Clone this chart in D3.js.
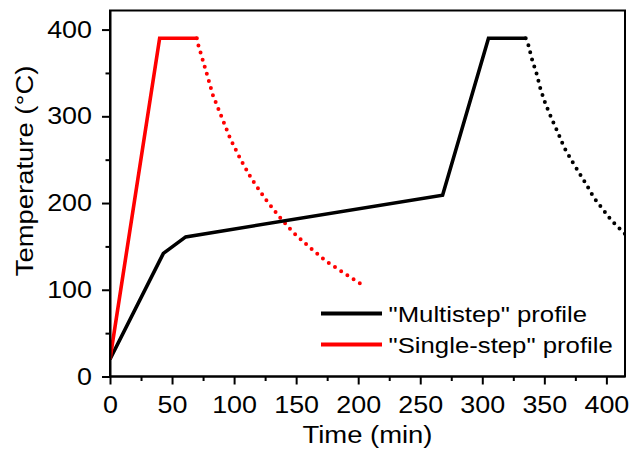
<!DOCTYPE html>
<html>
<head>
<meta charset="utf-8">
<script src="https://cdn.jsdelivr.net/npm/d3@7"></script>
<style>
  body { margin: 0; background: #fff; }
  svg { display: block; font-family: "Liberation Sans", Arial, sans-serif; }
  .stretch { transform-box: fill-box; transform: scaleX(1.12); }
</style>
</head>
<body>
<div id="chart"></div>
<script>
// heating / holding segments (solid)
const multistepTime = [0, 43, 61, 268, 305, 335]
const multistepTemp = [20, 142, 161, 209, 390, 390]
const singleTime = [0, 40, 70]
const singleTemp = [20, 390, 390]

// cooling segments (dotted)
const multistepCoolTime = [335, 337, 340, 344, 347, 351, 356, 361, 366, 372, 378, 384, 390, 397, 404, 413, 416]
const multistepCoolTemp = [390, 383, 366, 348, 331, 314, 297, 281, 264, 249, 235, 221, 206, 193, 180, 167, 163]
const singleCoolTime = [70, 71, 78, 83, 90, 97, 105, 114, 125, 136, 147, 160, 174, 190, 204]
const singleCoolTemp = [390, 383, 349, 324, 299, 274, 251, 228, 205, 185, 167, 150, 133, 118, 105]

const xTicks = [0, 50, 100, 150, 200, 250, 300, 350, 400]
const xMinorTicks = [25, 75, 125, 175, 225, 275, 325, 375]
const yTicks = [0, 100, 200, 300, 400]
const yMinorTicks = [50, 150, 250, 350]

const seriesNames = ['"Multistep" profile', '"Single-step" profile']
const seriesColors = ['#000000', '#ff0000']

const width = 632
const height = 451
const margin = { top: 10.5, right: 7, bottom: 74.5, left: 110 }

const x = d3.scaleLinear()
  .domain([0, 415])
  .range([margin.left, width - margin.right])

const y = d3.scaleLinear()
  .domain([0, 422])
  .range([height - margin.bottom, margin.top])

const zip = (xs, ys) => xs.map((t, i) => [t, ys[i]])

const svg = d3.select('#chart').append('svg')
  .attr('width', width)
  .attr('height', height)
  .attr('viewBox', [0, 0, width, height])

svg.append('defs').append('clipPath')
  .attr('id', 'plot-clip')
  .append('rect')
  .attr('x', margin.left)
  .attr('y', margin.top)
  .attr('width', width - margin.left - margin.right)
  .attr('height', height - margin.top - margin.bottom)

const line = d3.line().x(d => x(d[0])).y(d => y(d[1]))

const plot = svg.append('g').attr('clip-path', 'url(#plot-clip)')

const solid = [
  { pts: zip(multistepTime, multistepTemp), color: seriesColors[0] },
  { pts: zip(singleTime, singleTemp), color: seriesColors[1] },
]
const dotted = [
  { pts: zip(multistepCoolTime, multistepCoolTemp), color: seriesColors[0] },
  { pts: zip(singleCoolTime, singleCoolTemp), color: seriesColors[1] },
]

plot.selectAll('path.dotted')
  .data(dotted)
  .join('path')
  .attr('class', 'dotted')
  .attr('fill', 'none')
  .attr('stroke', d => d.color)
  .attr('stroke-width', 4)
  .attr('stroke-linecap', 'round')
  .attr('stroke-dasharray', '0 7.4')
  .attr('d', d => line(d.pts))

plot.selectAll('path.solid')
  .data(solid)
  .join('path')
  .attr('class', 'solid')
  .attr('fill', 'none')
  .attr('stroke', d => d.color)
  .attr('stroke-width', 3.6)
  .attr('stroke-linejoin', 'miter')
  .attr('d', d => line(d.pts))

// frame
svg.append('rect')
  .attr('x', margin.left)
  .attr('y', margin.top)
  .attr('width', width - margin.left - margin.right)
  .attr('height', height - margin.top - margin.bottom)
  .attr('fill', 'none')
  .attr('stroke', '#000')
  .attr('stroke-width', 2)

const styleAxis = (g, origin) => {
  g.selectAll('.tick line').attr('stroke-width', 2)
  g.select('.domain').attr('stroke-width', 2)
  g.selectAll('.tick text')
    .attr('fill', '#000')
    .attr('class', 'stretch')
    .style('transform-origin', origin)
}

// x axis
svg.append('g')
  .attr('transform', `translate(0,${height - margin.bottom})`)
  .call(d3.axisBottom(x).tickValues(xMinorTicks).tickSize(4.5).tickFormat('').tickSizeOuter(0))
  .call(g => g.select('.domain').remove())
  .call(g => g.selectAll('.tick line').attr('stroke-width', 2))

svg.append('g')
  .attr('transform', `translate(0,${height - margin.bottom})`)
  .style('font-size', '24px')
  .call(d3.axisBottom(x).tickValues(xTicks).tickSize(8).tickPadding(11).tickSizeOuter(0))
  .call(g => styleAxis(g, 'center'))
  .call(g => g.select('.domain').attr('d', `M${x(0)},0H${x(415)}`))

// y axis
svg.append('g')
  .attr('transform', `translate(${margin.left},0)`)
  .call(d3.axisLeft(y).tickValues(yMinorTicks).tickSize(4.5).tickFormat('').tickSizeOuter(0))
  .call(g => g.select('.domain').remove())
  .call(g => g.selectAll('.tick line').attr('stroke-width', 2))

svg.append('g')
  .attr('transform', `translate(${margin.left},0)`)
  .style('font-size', '24px')
  .call(d3.axisLeft(y).tickValues(yTicks).tickSize(8).tickPadding(10).tickSizeOuter(0))
  .call(g => styleAxis(g, 'right center'))

// axis titles
svg.append('text')
  .attr('class', 'stretch')
  .style('transform-origin', 'center')
  .attr('x', (margin.left + width - margin.right) / 2)
  .attr('y', 443)
  .attr('text-anchor', 'middle')
  .style('font-size', '24.5px')
  .text('Time (min)')

svg.append('g')
  .attr('transform', `translate(33,171) rotate(-90)`)
  .append('text')
  .attr('class', 'stretch')
  .style('transform-origin', 'center')
  .attr('text-anchor', 'middle')
  .style('font-size', '24.5px')
  .text('Temperature (°C)')

// legend
const legend = svg.append('g').attr('transform', 'translate(321,313.5)')
const item = legend.selectAll('g')
  .data(seriesNames)
  .join('g')
  .attr('transform', (d, i) => `translate(0,${i * 31})`)

item.append('line')
  .attr('x1', 0)
  .attr('x2', 61)
  .attr('stroke', (d, i) => seriesColors[i])
  .attr('stroke-width', 4)

item.append('text')
  .attr('class', 'stretch')
  .style('transform-origin', 'left center')
  .attr('x', 67.5)
  .attr('y', 8)
  .style('font-size', '23px')
  .text(d => d)
</script>
</body>
</html>
